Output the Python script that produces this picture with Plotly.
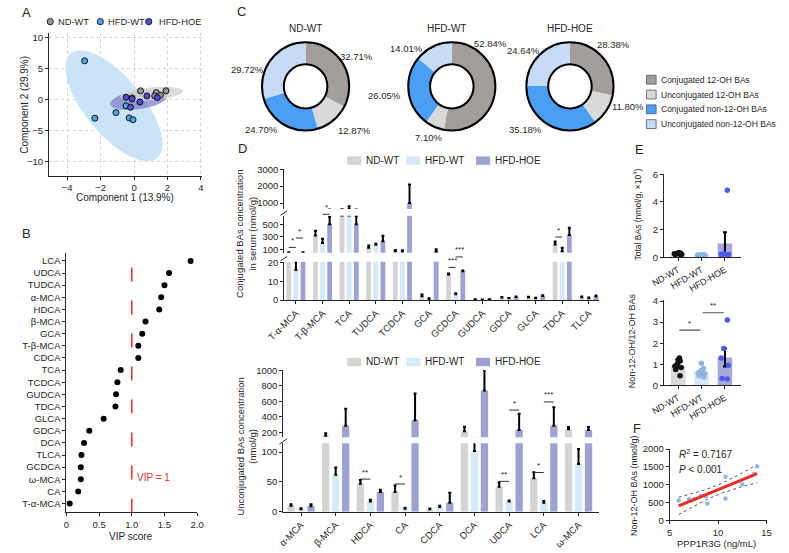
import numpy as np
import plotly.graph_objects as go

W, H = 789, 553
FONT = "Liberation Sans, Arial, Helvetica, sans-serif"
INK = "#262626"

# ======================= DATA =======================
group_names = ["ND-WT", "HFD-WT", "HFD-HOE"]

# Panel A : PLS-DA scores
nd_comp1 = [0.39, 1.33, 1.24, 1.58, 1.91, -0.12]
nd_comp2 = [1.40, 1.10, 0.57, 0.68, 1.40, 0.26]
wt_comp1 = [-2.95, -2.34, -1.08, -0.48, -0.29, -0.06]
wt_comp2 = [6.20, -3.00, -2.10, -1.00, -2.95, -3.25]
hoe_comp1 = [-0.48, -0.12, -0.21, 0.35, 0.77, 1.39]
hoe_comp2 = [0.36, 0.10, -1.24, -0.40, 0.57, 0.31]

# Panel B : VIP scores
vip_names = ["LCA", "UDCA", "TUDCA", "α-MCA", "HDCA", "β-MCA", "GCA", "T-β-MCA", "CDCA",
             "TCA", "TCDCA", "GUDCA", "TDCA", "GLCA", "GDCA", "DCA", "TLCA", "GCDCA",
             "ω-MCA", "CA", "T-α-MCA"]
vip_scores = [1.90, 1.57, 1.50, 1.45, 1.42, 1.21, 1.16, 1.10, 1.10, 0.83, 0.78, 0.76,
              0.75, 0.57, 0.35, 0.27, 0.23, 0.22, 0.22, 0.18, 0.05]
vip_threshold = 1.0

# Panel C : composition (%)
ba_classes = ["Conjugated 12-OH BAs", "Unconjugated 12-OH BAs",
              "Conjugated non-12-OH BAs", "Unconjugated non-12-OH BAs"]
pie_nd = [32.71, 12.87, 24.70, 29.72]
pie_wt = [52.84, 7.10, 26.05, 14.01]
pie_hoe = [28.38, 11.80, 35.18, 24.64]

# Panel D (top) : conjugated BAs (nmol/g)
conj_names = ["T-α-MCA", "T-β-MCA", "TCA", "TUDCA", "TCDCA", "GCA", "GCDCA", "GUDCA",
              "GDCA", "GLCA", "TDCA", "TLCA"]
conj_nd = [45, 322, 640, 125, 70, 2.0, 13.6, 0.3, 1.3, 1.5, 178, 1.5]
conj_nd_err = [8, 73, 0, 37, 20, 0.9, 0.5, 0.1, 0.3, 0.3, 47, 0.4]
conj_wt = [16, 203, 640, 175, 65, 0.5, 3.1, 0.2, 0.9, 1.0, 70, 1.0]
conj_wt_err = [4.5, 67, 170, 15, 20, 0.4, 0.5, 0.1, 0.2, 0.2, 55, 0.3]
conj_hoe = [45, 500, 500, 230, 1000, 65, 15.3, 0.3, 1.6, 2.1, 330, 2.0]
conj_hoe_err = [8, 120, 130, 88, 1100, 35, 0.5, 0.1, 0.3, 0.4, 115, 0.4]

# Panel D (bottom) : unconjugated BAs (nmol/g)
unc_names = ["α-MCA", "β-MCA", "HDCA", "CA", "CDCA", "DCA", "UDCA", "LCA", "ω-MCA"]
unc_nd = [10, 157, 47, 33, 4, 213, 42, 56, 240]
unc_nd_err = [2.5, 30, 6, 11, 1.5, 60, 7, 10, 30]
unc_wt = [4, 62, 17, 5, 8, 102, 17, 15, 80]
unc_wt_err = [2, 12, 3, 1.5, 2, 17, 2, 3, 25]
unc_hoe = [9, 285, 33, 355, 15, 740, 230, 285, 230]
unc_hoe_err = [3.5, 220, 4, 345, 17, 260, 210, 240, 40]

# Panel E : totals and ratio
total_mean = [0.25, 0.17, 1.0]
total_err = [0.03, 0.02, 0.8]
total_nd_pts = [0.18, 0.20, 0.22, 0.25, 0.27, 0.30, 0.32, 0.28]
total_wt_pts = [0.12, 0.14, 0.15, 0.16, 0.18, 0.20]
total_hoe_pts = [0.15, 0.18, 0.20, 0.22, 0.25, 4.85]
ratio_mean = [0.93, 0.65, 1.32]
ratio_err = [0.1, 0.1, 0.43]
ratio_nd_pts = [1.30, 1.20, 1.15, 1.00, 0.90, 0.85, 0.75, 0.45]
ratio_wt_pts = [1.05, 0.80, 0.65, 0.60, 0.55, 0.45, 0.40]
ratio_hoe_pts = [3.10, 1.75, 1.30, 0.95, 0.30, 0.32]

# Panel F : correlation
ppp1r3g = [5.93, 7.0, 7.53, 8.2, 8.73, 8.9, 10.77, 10.77, 12.5, 13.7, 14.03]
non12oh = [552, 598, 589, 681, 672, 470, 1224, 608, 1013, 1297, 1509]

# ======================= HELPERS =======================
def X(px):
    return px / W


def Y(py):
    return 1 - py / H


layout = dict(
    width=W, height=H, margin=dict(l=0, r=0, t=0, b=0),
    paper_bgcolor="white", plot_bgcolor="white",
    font=dict(family=FONT, size=10, color=INK),
    showlegend=False, barmode="overlay", boxmode="overlay",
)
annotations = []
shapes = []
fig = go.Figure()


def sfx(n):
    return "" if n == 1 else str(n)


def axis_pair(n, xpx, ypx, xa=None, ya=None):
    base = dict(showgrid=False, zeroline=False, showline=True, linecolor=INK, linewidth=1,
                ticks="outside", ticklen=3, tickwidth=1, tickcolor=INK,
                tickfont=dict(size=9.5, color=INK, family=FONT))
    xd = dict(base, domain=[X(xpx[0]), X(xpx[1])], anchor="y" + sfx(n))
    yd = dict(base, domain=[Y(ypx[1]), Y(ypx[0])], anchor="x" + sfx(n))
    xd.update(xa or {})
    yd.update(ya or {})
    layout["xaxis" + sfx(n)] = xd
    layout["yaxis" + sfx(n)] = yd


def ann(text, x, y, size=10, xanchor="center", yanchor="middle", angle=0, color=INK, **kw):
    annotations.append(dict(text=text, x=X(x), y=Y(y), xref="paper", yref="paper",
                            showarrow=False, xanchor=xanchor, yanchor=yanchor,
                            textangle=angle, font=dict(size=size, color=color, family=FONT), **kw))


def line_px(x0, y0, x1, y1, color=INK, width=1, dash=None):
    shapes.append(dict(type="line", xref="paper", yref="paper", x0=X(x0), y0=Y(y0),
                       x1=X(x1), y1=Y(y1), line=dict(color=color, width=width, dash=dash)))


# ======================= PANEL A =======================
axis_pair(1, (32, 190), (28, 173),
          xa=dict(range=[-5.08, 4.06], tickvals=[-4, -2, 0, 2, 4], showgrid=True,
                  gridcolor="#d2d2d2", griddash="3px,3px"),
          ya=dict(range=[-12.2, 10.6], tickvals=[-10, -5, 0, 5, 10], showgrid=True,
                  gridcolor="#d2d2d2", griddash="3px,3px"))


def conf_ellipse(xs, ys, chi2=5.991, npts=120):
    x = np.asarray(xs, float)
    y = np.asarray(ys, float)
    vals, vecs = np.linalg.eigh(np.cov(x, y))
    t = np.linspace(0, 2 * np.pi, npts)
    circ = np.vstack([np.cos(t), np.sin(t)])
    pts = vecs @ (np.sqrt(vals * chi2)[:, None] * circ)
    return x.mean() + pts[0], y.mean() + pts[1]


ell_specs = [(wt_comp1, wt_comp2, "rgba(200,228,246,1)"),
             (hoe_comp1, hoe_comp2, "rgba(128,128,204,0.75)"),
             (nd_comp1, nd_comp2, "rgba(212,212,212,0.85)")]
for cx, cy, col in ell_specs:
    ex, ey = conf_ellipse(cx, cy)
    fig.add_trace(go.Scatter(x=ex, y=ey, mode="lines", fill="toself", fillcolor=col,
                             line=dict(width=0), hoverinfo="skip", xaxis="x", yaxis="y"))

pt_colors = ["#9a9a9a", "#4ba6f2", "#4d4de4"]
for (cx, cy), col in zip([(nd_comp1, nd_comp2), (wt_comp1, wt_comp2), (hoe_comp1, hoe_comp2)],
                         pt_colors):
    fig.add_trace(go.Scatter(x=cx, y=cy, mode="markers",
                             marker=dict(size=6, color=col, line=dict(color="#111", width=1)),
                             xaxis="x", yaxis="y"))

# legend A
for (mx, tx), name, col in zip([(33.3, 39.5), (85, 91), (135, 144)], group_names, pt_colors):
    shapes.append(dict(type="circle", xref="paper", yref="paper",
                       x0=X(mx - 3.2), x1=X(mx + 3.2), y0=Y(16 + 3.2), y1=Y(16 - 3.2),
                       fillcolor=col, line=dict(color="#222", width=1)))
    ann(name, tx, 16, size=9.3, xanchor="left")
ann("Component 1 (13.9%)", 110, 195, size=10)
ann("Component 2 (29.9%)", 7, 101, size=10, angle=-90)
ann("A", 2, 7, size=13, xanchor="left")

# ======================= PANEL B =======================
axis_pair(2, (50, 185), (252, 516.7),
          xa=dict(range=[0, 2.0], tickvals=[0, 0.5, 1.0, 1.5, 2.0],
                  ticktext=["0", "0.5", "1.0", "1.5", "2.0"]),
          ya=dict(type="category", categoryorder="array", categoryarray=vip_names[::-1],
                  range=[-0.73, 20.65]))
fig.add_trace(go.Scatter(x=vip_scores, y=vip_names, mode="markers",
                         marker=dict(size=6, color="black"), xaxis="x2", yaxis="y2"))
shapes.append(dict(type="line", xref="x2", yref="y2 domain", x0=vip_threshold, x1=vip_threshold,
                   y0=0, y1=0.98, line=dict(color="#e8322e", width=1.5, dash="14px,19px")))
ann("VIP = 1", 121, 481, size=10, xanchor="left", color="#e8322e")
ann("VIP score", 117, 541, size=10)
ann("B", 2, 232, size=13, xanchor="left")

# ======================= PANEL C =======================
pie_colors = ["#a39e9b", "#d9d9d9", "#4a9ef5", "#c6dcf6"]
pie_r = 45
pie_cy = 82
pie_label_pos = [
    [(350, 52), (348, 127), (251, 126), (237, 65)],
    [(488, 38), (424, 134), (378, 91), (401, 43)],
    [(615, 39), (630, 103), (524, 126), (522, 45)],
]
for vals, cx, title, tx, lpos in zip([pie_nd, pie_wt, pie_hoe], [297, 448, 570], group_names,
                                     [297, 443, 570], pie_label_pos):
    fig.add_trace(go.Pie(values=vals, labels=ba_classes, hole=0.5, sort=False,
                         direction="clockwise", rotation=0,
                         marker=dict(colors=pie_colors, line=dict(width=0)),
                         textinfo="none",
                         domain=dict(x=[X(cx - pie_r), X(cx + pie_r)],
                                     y=[Y(pie_cy + pie_r), Y(pie_cy - pie_r)]),
                         hoverinfo="skip"))
    for rr in (pie_r, pie_r * 0.5):
        shapes.append(dict(type="circle", xref="paper", yref="paper",
                           x0=X(cx - rr), x1=X(cx + rr), y0=Y(pie_cy + rr), y1=Y(pie_cy - rr),
                           line=dict(color="black", width=2)))
    for v, (lx, ly) in zip(vals, lpos):
        ann(f"{v:.2f}%", lx, ly, size=9.5)
    ann(title, tx, 22.6, size=10)

for i, (name, col) in enumerate(zip(ba_classes, pie_colors)):
    yy = 75.2 + i * 15.1
    shapes.append(dict(type="rect", xref="paper", yref="paper", x0=X(649), x1=X(659),
                       y0=Y(yy + 4.5), y1=Y(yy - 4.5), fillcolor=col,
                       line=dict(color="#555", width=0.8)))
    ann(name, 662, yy, size=8.5, xanchor="left")
ann("C", 224, 6, size=13, xanchor="left")

# ======================= PANEL D =======================
bar_colors = ["#d4d4d4", "#d3eaf8", "#9ea2d3"]
err_style = dict(type="data", symmetric=False, thickness=2, width=1.5, color="black")


def add_bars(n, series, errs, pitch, width):
    for k, (vals, ee, col) in enumerate(zip(series, errs, bar_colors)):
        fig.add_trace(go.Bar(x=list(range(len(vals))), y=vals, width=width,
                             offset=(k - 1) * pitch - width / 2,
                             marker=dict(color=col, line=dict(width=0)),
                             error_y=dict(err_style, array=ee, arrayminus=[0] * len(ee)),
                             xaxis="x" + sfx(n), yaxis="y" + sfx(n), hoverinfo="skip"))


# --- top chart: conjugated, broken axis (3 segments)
cx_range = [-0.436, 11.38]
cx_px = (275, 600)
axis_pair(3, cx_px, (261, 300),
          xa=dict(range=cx_range, tickvals=list(range(len(conj_names))), ticktext=conj_names,
                  tickangle=-45),
          ya=dict(range=[0, 20.4], tickvals=[0, 10, 20]))
axis_pair(4, cx_px, (214, 251.7),
          xa=dict(range=cx_range, visible=False),
          ya=dict(range=[47, 636], tickvals=[100, 300, 500]))
axis_pair(5, cx_px, (166.5, 207),
          xa=dict(range=cx_range, visible=False),
          ya=dict(range=[660, 3000], tickvals=[1000, 2000, 3000]))
conj_series = [conj_nd, conj_wt, conj_hoe]
conj_errs = [conj_nd_err, conj_wt_err, conj_hoe_err]
pitch_t, width_t = 0.267, 0.18
for n in (3, 4, 5):
    add_bars(n, conj_series, conj_errs, pitch_t, width_t)

# --- bottom chart: unconjugated, broken axis (2 segments)
ux_range = [-0.51, 8.59]
ux_px = (274, 600)
axis_pair(6, ux_px, (446, 516),
          xa=dict(range=ux_range, tickvals=list(range(len(unc_names))), ticktext=unc_names,
                  tickangle=-45),
          ya=dict(range=[0, 115], tickvals=[0, 50, 100]))
axis_pair(7, ux_px, (371.7, 440),
          xa=dict(range=ux_range, visible=False),
          ya=dict(range=[137, 1000], tickvals=[200, 400, 600, 800, 1000]))
unc_series = [unc_nd, unc_wt, unc_hoe]
unc_errs = [unc_nd_err, unc_wt_err, unc_hoe_err]
pitch_b, width_b = 0.288, 0.21
for n in (6, 7):
    add_bars(n, unc_series, unc_errs, pitch_b, width_b)

# axis breaks
for (x0, y0, x1, y1) in [(271, 213.5, 278, 209), (271, 260, 278, 255.5), (270, 447, 278, 441.5)]:
    line_px(x0, y0, x1, y1, width=1)

# significance marks
conj_sig = [(0, 0, 246.3, "*"), (0, 1, 236.7, "*"), (1, 1, 212.5, "*"),
            (6, 0, 266.7, "***"), (6, 1, 256.0, "***"), (10, 0, 235.7, "*")]
unc_sig = [(2, 0, 482.7, "**"), (3, 0, 487.7, "*"), (6, 0, 485.0, "**"), (6, 1, 412.3, "*"),
           (7, 0, 476.0, "*"), (7, 1, 404.0, "***")]


def add_sig(xref, sigs, pitch):
    for g, pair, ypx, stars in sigs:
        xa_ = g + (pair - 1) * pitch
        xb_ = g + pair * pitch
        shapes.append(dict(type="line", xref=xref, yref="paper", x0=xa_, x1=xb_,
                           y0=Y(ypx), y1=Y(ypx), line=dict(color="#333", width=1)))
        annotations.append(dict(text=stars, x=(xa_ + xb_) / 2, y=Y(ypx - 0.5), xref=xref,
                                yref="paper", showarrow=False, yanchor="bottom",
                                font=dict(size=8, color=INK, family=FONT)))


add_sig("x3", conj_sig, pitch_t)
add_sig("x6", unc_sig, pitch_b)

# legends for D
for ly in (157.7, 363.2):
    for (sx0, tx), name, col in zip([(340, 357.5), (401, 418.5), (473, 491)], group_names,
                                    bar_colors):
        shapes.append(dict(type="rect", xref="paper", yref="paper", x0=X(sx0), x1=X(sx0 + 14.5),
                           y0=Y(ly + 4.3), y1=Y(ly - 4.3), fillcolor=col, line=dict(width=0)))
        ann(name, tx, ly, size=10, xanchor="left")

ann("Conjugated BAs concentration<br>in serum (nmol/g)", 235.5, 232.5, size=9.5, angle=-90)
ann("Unconjugated BAs concentration<br>(nmol/g)", 235, 450, size=9.5, angle=-90)
ann("D", 225, 145, size=13, xanchor="left")

# ======================= PANEL E =======================
e_bar_colors = ["#d9d9d9", "#d6e9f7", "#a6aad9"]
e_pt_colors = ["#111111", "#8fb6e3", "#4a5cf0"]
ex_range = [-0.61, 2.7]
axis_pair(8, (667, 747), (171, 256.3),
          xa=dict(range=ex_range, tickvals=[0, 1, 2], ticktext=group_names, tickangle=-30,
                  tickfont=dict(size=9, color=INK, family=FONT)),
          ya=dict(range=[0, 6.05], tickvals=[0, 2, 4, 6]))
axis_pair(9, (667, 747), (300, 387),
          xa=dict(range=ex_range, tickvals=[0, 1, 2], ticktext=group_names, tickangle=-30,
                  tickfont=dict(size=9, color=INK, family=FONT)),
          ya=dict(range=[0, 4.05], tickvals=[0, 1, 2, 3, 4]))


def add_e(n, means, errs, pts_lists):
    fig.add_trace(go.Bar(x=[0, 1, 2], y=means, width=0.62, marker=dict(color=e_bar_colors,
                         line=dict(width=0)),
                         error_y=dict(type="data", array=errs, thickness=2, width=2,
                                      color="black"),
                         xaxis="x" + sfx(n), yaxis="y" + sfx(n), hoverinfo="skip"))
    for i, (pts, col) in enumerate(zip(pts_lists, e_pt_colors)):
        fig.add_trace(go.Box(x=[i] * len(pts), y=pts, boxpoints="all", jitter=0.7, pointpos=0,
                             width=0.55, fillcolor="rgba(0,0,0,0)",
                             line=dict(color="rgba(0,0,0,0)", width=0),
                             marker=dict(color=col, size=5.5),
                             xaxis="x" + sfx(n), yaxis="y" + sfx(n), hoverinfo="skip"))


add_e(8, total_mean, total_err, [total_nd_pts, total_wt_pts, total_hoe_pts])
add_e(9, ratio_mean, ratio_err, [ratio_nd_pts, ratio_wt_pts, ratio_hoe_pts])

e_sig = [(0, 1, 330.7, "*"), (1, 2, 313.0, "**")]
for a, b, ypx, stars in e_sig:
    shapes.append(dict(type="line", xref="x9", yref="paper", x0=a + 0.05, x1=b - 0.05,
                       y0=Y(ypx), y1=Y(ypx), line=dict(color="#555", width=1.2)))
    annotations.append(dict(text=stars, x=(a + b) / 2, y=Y(ypx - 0.5), xref="x9", yref="paper",
                            showarrow=False, yanchor="bottom",
                            font=dict(size=8, color=INK, family=FONT)))

ann("Total BAs (nmol/g, ×10<sup>4</sup>)", 640, 213, size=8.5, angle=-90)
ann("Non-12-OH/12-OH BAs", 634, 341, size=9, angle=-90)
ann("E", 635, 146, size=13, xanchor="left")

# ======================= PANEL F =======================
axis_pair(10, (673, 773), (452, 524.7),
          xa=dict(range=[5, 15], tickvals=[5, 10, 15]),
          ya=dict(range=[0, 2000], tickvals=[0, 500, 1000, 1500, 2000],
                  ticktext=["0", "500", "1000", "1500", "2000"]))
fx = np.asarray(ppp1r3g, float)
fy = np.asarray(non12oh, float)
slope, icpt = np.polyfit(fx, fy, 1)
xs = np.linspace(fx.min(), fx.max(), 60)
yhat = slope * xs + icpt
resid = fy - (slope * fx + icpt)
s_err = np.sqrt(np.sum(resid ** 2) / (len(fx) - 2))
sxx = np.sum((fx - fx.mean()) ** 2)
tval = 2.262
band = tval * s_err * np.sqrt(1 / len(fx) + (xs - fx.mean()) ** 2 / sxx)
for yy in (yhat + band, yhat - band):
    fig.add_trace(go.Scatter(x=xs, y=yy, mode="lines", line=dict(color="#555", width=1,
                             dash="dot"), xaxis="x10", yaxis="y10", hoverinfo="skip"))
fig.add_trace(go.Scatter(x=fx, y=fy, mode="markers", marker=dict(size=4.5, color="#8fb5e6"),
                         xaxis="x10", yaxis="y10"))
fig.add_trace(go.Scatter(x=xs, y=yhat, mode="lines", line=dict(color="#ee2a24", width=3),
                         xaxis="x10", yaxis="y10", hoverinfo="skip"))
ann("<i>R</i><sup>2</sup> = 0.7167", 681, 457, size=10, xanchor="left")
ann("<i>P</i> < 0.001", 681, 473, size=10, xanchor="left")
ann("Non-12-OH BAs (nmol/g)", 636, 489, size=9, angle=-90)
ann("PPP1R3G (ng/mL)", 721, 548, size=9.5)
ann("F", 633, 431, size=13, xanchor="left")

layout["annotations"] = annotations
layout["shapes"] = shapes
fig.update_layout(**layout)
fig.write_html("out.html", config={"displayModeBar": False},
               post_script="document.body.style.margin='0';document.body.style.overflow='hidden';")
